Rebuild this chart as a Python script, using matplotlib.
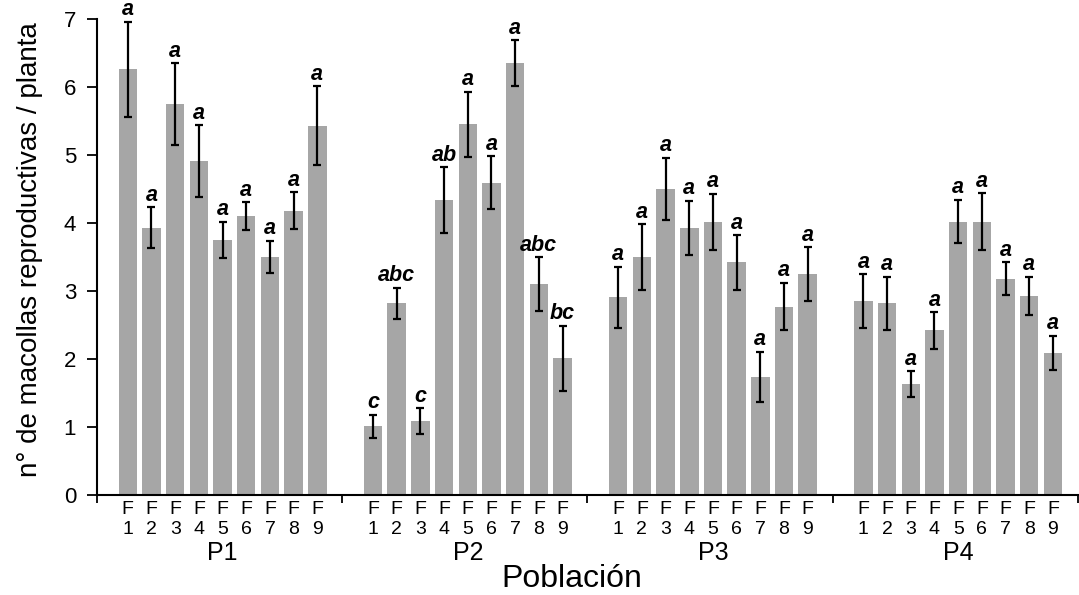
import numpy as np
import matplotlib
matplotlib.use("Agg")
import matplotlib.pyplot as plt
from matplotlib.ticker import FixedLocator

plt.rcParams['font.family'] = ['Liberation Sans', 'DejaVu Sans']

# poblaciones y familias
poblaciones = ['P1', 'P2', 'P3', 'P4']
familias = ['F\n1', 'F\n2', 'F\n3', 'F\n4', 'F\n5', 'F\n6', 'F\n7', 'F\n8', 'F\n9']

# media de macollas reproductivas por planta
p1 = [6.26, 3.93, 5.75, 4.91, 3.75, 4.10, 3.50, 4.18, 5.43]
p2 = [1.01, 2.82, 1.09, 4.34, 5.45, 4.59, 6.35, 3.10, 2.01]
p3 = [2.91, 3.50, 4.50, 3.93, 4.02, 3.42, 1.74, 2.77, 3.25]
p4 = [2.85, 2.82, 1.63, 2.42, 4.02, 4.02, 3.18, 2.93, 2.09]

# error estandar
e1 = [0.70, 0.30, 0.60, 0.53, 0.27, 0.21, 0.24, 0.27, 0.58]
e2 = [0.17, 0.23, 0.19, 0.48, 0.48, 0.39, 0.34, 0.40, 0.48]
e3 = [0.45, 0.48, 0.46, 0.40, 0.41, 0.40, 0.37, 0.35, 0.39]
e4 = [0.40, 0.39, 0.19, 0.27, 0.32, 0.42, 0.24, 0.28, 0.25]

# letras de Tukey
l1 = ['a'] * 9
l2 = ['c', 'abc', 'c', 'ab', 'a', 'a', 'a', 'abc', 'bc']
l3 = ['a'] * 9
l4 = ['a'] * 9

medias = [p1, p2, p3, p4]
errores = [e1, e2, e3, e4]
letras = [l1, l2, l3, l4]

ancho_grupo = 10.35
inicio = 1.3
gris = '#a6a6a6'

fig = plt.figure(figsize=(10.79, 5.95), dpi=100)
ax = fig.add_axes([97 / 1079, 1 - 495 / 595, 982 / 1079, 476 / 595])

xs_all, labels_all = [], []
for g in range(len(poblaciones)):
    x = g * ancho_grupo + inicio + np.arange(len(familias))
    ax.bar(x, medias[g], width=0.78, color=gris, edgecolor='none', zorder=2)
    ax.errorbar(x, medias[g], yerr=errores[g], fmt='none', ecolor='black',
                elinewidth=1.6, capsize=3.2, capthick=1.6, zorder=3)
    for xi, m, e, t in zip(x, medias[g], errores[g], letras[g]):
        ax.annotate(t, (xi, m + e), xytext=(0, 1), textcoords='offset points',
                    ha='center', va='bottom', fontsize=15.5, fontweight='bold',
                    fontstyle='italic')
    ax.text(g * ancho_grupo + inicio + 4, -0.122, poblaciones[g],
            transform=ax.get_xaxis_transform(), ha='center', va='center',
            fontsize=18)
    xs_all.extend(x)
    labels_all.extend(familias)

ax.set_xlim(0, 4 * ancho_grupo + 0.05)
ax.set_ylim(0, 7)
ax.set_yticks(range(0, 8))
ax.tick_params(axis='y', labelsize=16, length=7, width=1.3, direction='out', pad=8)
ax.set_xticks(xs_all)
ax.set_xticklabels(labels_all, fontsize=14, linespacing=1.25)
ax.tick_params(axis='x', length=0, pad=4)
ax.xaxis.set_minor_locator(FixedLocator([g * ancho_grupo for g in range(5)]))
ax.tick_params(axis='x', which='minor', length=6, width=1.3, direction='out')

for s in ['top', 'right']:
    ax.spines[s].set_visible(False)
for s in ['left', 'bottom']:
    ax.spines[s].set_linewidth(1.5)

fig.text(30 / 1079, 1 - 250 / 595, 'n° de macollas reproductivas / planta',
         rotation=90, ha='center', va='center', fontsize=20)
fig.text(572 / 1079, 1 - 579 / 595, 'Población', ha='center', va='center',
         fontsize=23)

fig.savefig('out.png', dpi=100)
